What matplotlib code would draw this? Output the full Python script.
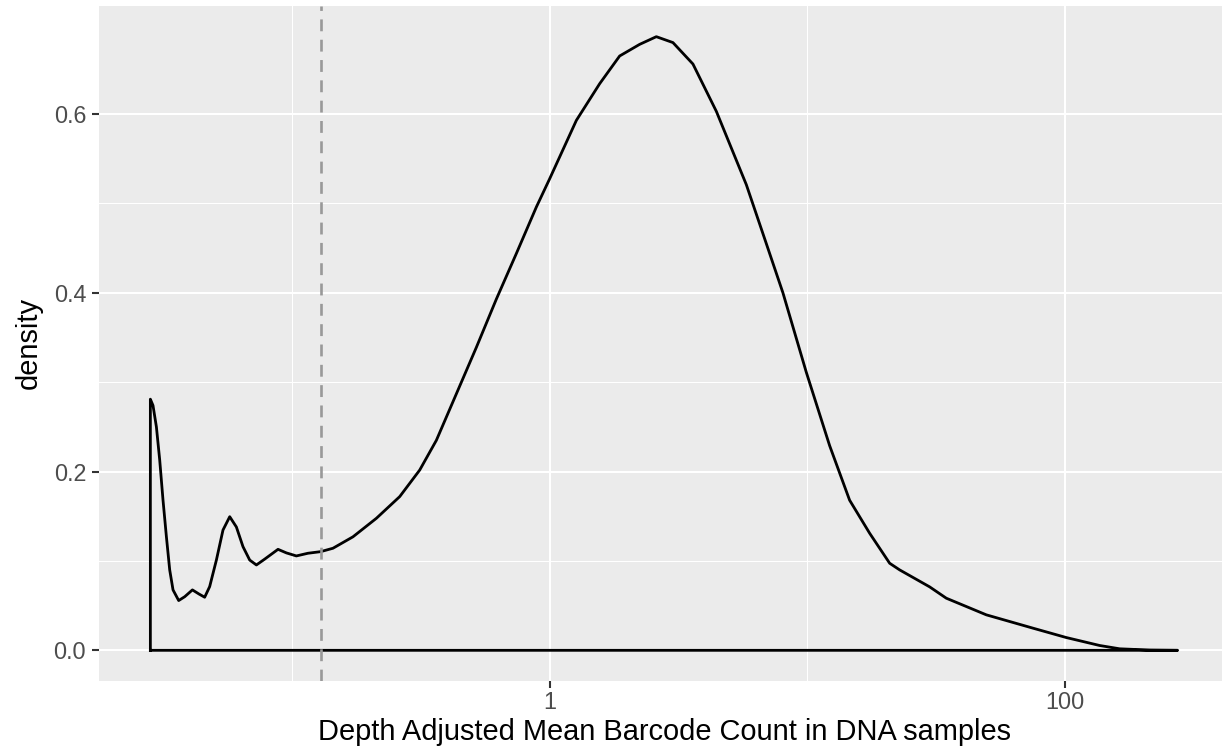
import numpy as np
import matplotlib
matplotlib.use("Agg")
import matplotlib.pyplot as plt
from matplotlib.ticker import FixedLocator, NullFormatter

plt.rcParams['font.family'] = ['Liberation Sans', 'DejaVu Sans']

# density curve (x on log10 scale)
barcode_count = [0.02813, 0.02880, 0.02969, 0.03058, 0.03150, 0.03247, 0.03344,
                 0.03445, 0.03624, 0.03825, 0.04097, 0.04345, 0.04572, 0.04781,
                 0.05077, 0.05386, 0.05720, 0.06071, 0.06440, 0.06839, 0.07261,
                 0.07817, 0.08810, 0.09495, 0.1038, 0.1151, 0.1290, 0.1440,
                 0.1722, 0.2123, 0.2616, 0.3128, 0.3631, 0.4342, 0.5192, 0.6209,
                 0.7425, 0.8878, 1.0, 1.270, 1.564, 1.870, 2.236, 2.596, 3.012,
                 3.602, 4.441, 5.806, 6.943, 8.054, 9.929, 12.23, 14.62, 17.49,
                 20.92, 22.87, 29.91, 34.72, 49.65, 75.33, 101.5, 136.8, 163.6,
                 213.8, 274.8]
density = [0.281, 0.274, 0.250, 0.213, 0.168, 0.127, 0.090,
           0.0676, 0.0557, 0.060, 0.0676, 0.063, 0.0594, 0.0713,
           0.101, 0.1346, 0.1495, 0.138, 0.116, 0.101, 0.0955,
           0.102, 0.113, 0.109, 0.1056, 0.1086, 0.1104, 0.1142,
           0.127, 0.1477, 0.172, 0.2017, 0.235, 0.287, 0.339, 0.393,
           0.444, 0.496, 0.5276, 0.593, 0.634, 0.665, 0.678, 0.6866, 0.680,
           0.656, 0.603, 0.521, 0.455, 0.40, 0.311, 0.229, 0.168, 0.131,
           0.0974, 0.090, 0.071, 0.0583, 0.0397, 0.0248, 0.0143, 0.0054, 0.0017,
           0.0003, 0.0]
cutoff = 0.129

x_major = [0.01, 1, 100, 10000]
x_labels = ["0.01", "1", "100", "10000"]
x_minor = [0.1, 10, 1000]
y_major = [0.0, 0.2, 0.4, 0.6]
y_labels = ["0.0", "0.2", "0.4", "0.6"]
y_minor = [0.1, 0.3, 0.5]

W, H = 1222, 754
fig = plt.figure(figsize=(W / 100, H / 100), dpi=100)
fig.patch.set_facecolor("white")
# panel runs a bit past the right edge, as in the reference
ax = fig.add_axes([99 / W, (H - 681) / H, 1130 / W, 675 / H])
ax.set_facecolor("#EBEBEB")
for s in ax.spines.values():
    s.set_visible(False)

ax.set_xscale("log")

# outline of the density area (baseline included, like geom_density)
xs = np.array(barcode_count)
ys = np.array(density)
px = np.concatenate([[xs[0]], xs, [xs[-1], xs[0]]])
py = np.concatenate([[0.0], ys, [0.0, 0.0]])
ax.plot(px, py, color="black", lw=2.0, solid_joinstyle="round", zorder=3)

ax.axvline(cutoff, color="#999999", lw=1.9, ls=(0, (4.5, 3.2)), zorder=4)

# ggplot-like 5% expansion
lx = np.log10(xs)
span = lx.max() - lx.min()
ax.set_xlim(10 ** (lx.min() - 0.05 * span), 10 ** (lx.max() + 0.05 * span))
top = ys.max()
ax.set_ylim(-0.05 * top, 1.05 * top)

ax.xaxis.set_major_locator(FixedLocator(x_major))
ax.set_xticklabels(x_labels)
ax.xaxis.set_minor_locator(FixedLocator(x_minor))
ax.xaxis.set_minor_formatter(NullFormatter())
ax.yaxis.set_major_locator(FixedLocator(y_major))
ax.set_yticklabels(y_labels)
ax.yaxis.set_minor_locator(FixedLocator(y_minor))

ax.grid(which="major", color="white", lw=1.5, zorder=0)
ax.grid(which="minor", color="white", lw=0.75, zorder=0)
ax.set_axisbelow(True)

ax.tick_params(which="major", length=5.3, width=1.5, color="#333333",
               labelcolor="#4D4D4D", labelsize=16.8)
ax.tick_params(axis="x", which="major", pad=2)
ax.tick_params(axis="y", which="major", pad=4)
ax.tick_params(which="minor", length=0)

ax.set_xlabel("Depth Adjusted Mean Barcode Count in DNA samples",
              fontsize=20.9, labelpad=3)
ax.set_ylabel("density", fontsize=20.9, labelpad=8)

fig.savefig("out.png", dpi=100)
